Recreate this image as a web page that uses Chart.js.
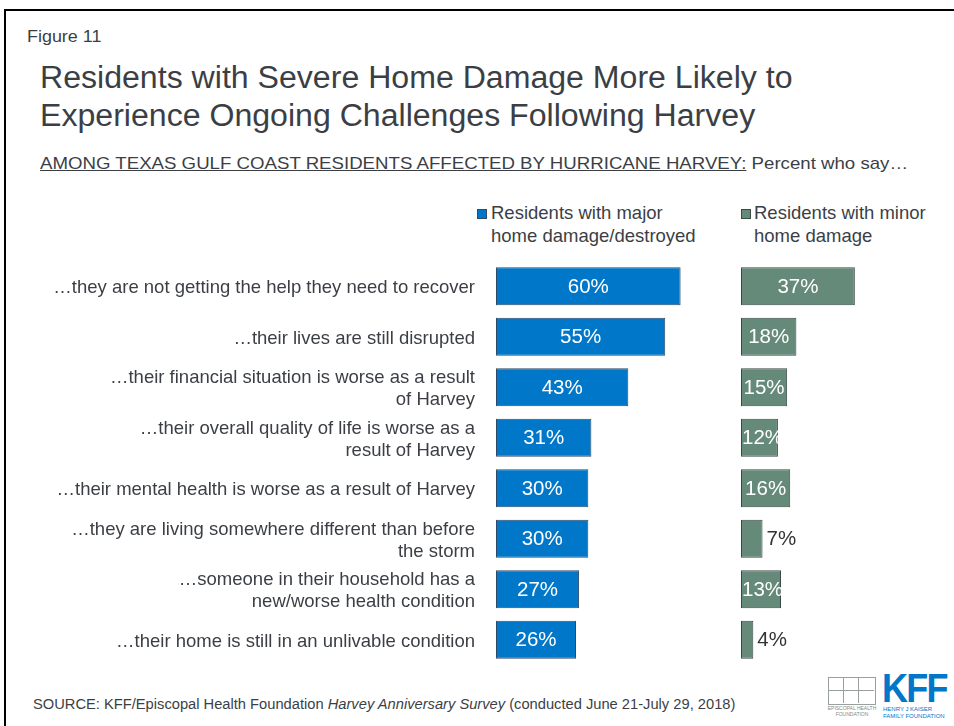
<!DOCTYPE html>
<html>
<head>
<meta charset="utf-8">
<script src="https://cdn.jsdelivr.net/npm/chart.js@4/dist/chart.umd.min.js"></script>
<style>
  html, body { margin:0; padding:0; background:#fff; }
  body { width:954px; height:726px; position:relative; overflow:hidden; font-family:"Liberation Sans", Arial, sans-serif; color:#3b3f45; }
  .frame { position:absolute; left:4px; top:9px; width:1000px; height:800px; border-top:2px solid #000; border-left:2px solid #000; }
  .abs { position:absolute; white-space:nowrap; transform-origin:left top; }
  #fig { left:27px; top:28px; font-size:16px; transform:scaleX(1.12); }
  #title { left:40px; top:59px; font-size:31px; line-height:38px; transform:scaleX(1.035); }
  #sub { left:40px; top:154px; font-size:17px; transform:scaleX(1.097); }
  #sub u { text-decoration:underline; }
  .leg { font-size:18.5px; line-height:23px; }
  .sq { position:absolute; width:8px; height:8px; }
  #source { left:33px; top:696px; font-size:14.7px; }
  canvas { position:absolute; }
</style>
</head>
<body>
<div class="frame"></div>
<div class="abs" id="fig">Figure 11</div>
<div class="abs" id="title">Residents with Severe Home Damage More Likely to<br>Experience Ongoing Challenges Following Harvey</div>
<div class="abs" id="sub"><u>AMONG TEXAS GULF COAST RESIDENTS AFFECTED BY HURRICANE HARVEY:</u> Percent who say…</div>

<div class="sq" style="left:477px;top:209px;background:#0077C8;border:1px solid #2f4a66;"></div>
<div class="abs leg" style="left:491px;top:201px;">Residents with major<br>home damage/destroyed</div>
<div class="sq" style="left:741px;top:209px;background:#668A7A;border:1px solid #3a4a45;"></div>
<div class="abs leg" style="left:754px;top:201px;">Residents with minor<br>home damage</div>

<canvas id="c1" width="696" height="404" style="left:0;top:261px;"></canvas>
<canvas id="c2" width="200" height="404" style="left:741px;top:261px;"></canvas>

<div class="abs" id="source">SOURCE: KFF/Episcopal Health Foundation <i>Harvey Anniversary Survey</i> (conducted June 21-July 29, 2018)</div>

<div class="abs" style="left:828px;top:677px;width:46px;height:26px;border:1px solid #9aa09c;"></div>
<div class="abs" style="left:843px;top:677px;width:1px;height:26px;background:#9aa09c;"></div>
<div class="abs" style="left:858px;top:677px;width:1px;height:26px;background:#9aa09c;"></div>
<div class="abs" style="left:828px;top:690px;width:46px;height:1px;background:#9aa09c;"></div>
<div class="abs" style="left:826px;top:705px;font-size:5px;line-height:6px;color:#888;text-align:center;width:52px;">EPISCOPAL HEALTH<br>FOUNDATION</div>
<div class="abs" style="left:882px;top:668px;font-size:40px;font-weight:bold;color:#0077C8;letter-spacing:-2px;line-height:40px;transform:scaleX(0.9);">KFF</div>
<div class="abs" style="left:883px;top:706px;font-size:6px;line-height:7px;color:#0077C8;">HENRY J KAISER<br>FAMILY FOUNDATION</div>

<script>
const categories = [
  "…they are not getting the help they need to recover",
  "…their lives are still disrupted",
  ["…their financial situation is worse as a result", "of Harvey"],
  ["…their overall quality of life is worse as a", "result of Harvey"],
  "…their mental health is worse as a result of Harvey",
  ["…they are living somewhere different than before", "the storm"],
  ["…someone in their household has a", "new/worse health condition"],
  "…their home is still in an unlivable condition"
];
const majorDamage = [60, 55, 43, 31, 30, 30, 27, 26];
const minorDamage = [37, 18, 15, 12, 16, 7, 13, 4];
const seriesNames = ["Residents with major home damage/destroyed", "Residents with minor home damage"];

const FONT = "'Liberation Sans', Arial, sans-serif";

const labelPlugin = {
  id: 'barLabels',
  afterDatasetsDraw(chart) {
    const ctx = chart.ctx;
    const meta = chart.getDatasetMeta(0);
    const data = chart.data.datasets[0].data;
    ctx.save();
    ctx.font = "20.5px " + FONT;
    ctx.textBaseline = 'middle';
    meta.data.forEach((bar, i) => {
      const v = data[i];
      const txt = v + '%';
      const left = Math.min(bar.base, bar.x), right = Math.max(bar.base, bar.x);
      const top = bar.y - bar.height / 2;
      if (v >= 10) {
        ctx.save();
        ctx.beginPath();
        ctx.rect(left, top, right - left, bar.height);
        ctx.clip();
        ctx.fillStyle = '#ffffff';
        const w = ctx.measureText(txt).width;
        let x0 = (left + right) / 2 - w / 2;
        if (x0 < left + 1) x0 = left + 1;
        ctx.textAlign = 'left';
        ctx.fillText(txt, x0, bar.y + 1);
        ctx.restore();
      } else {
        ctx.fillStyle = '#333333';
        ctx.textAlign = 'left';
        ctx.fillText(txt, right + 4, bar.y + 1);
      }
    });
    ctx.restore();
  }
};

function makeChart(id, values, name, bg, border, showLabels) {
  return new Chart(document.getElementById(id), {
    type: 'bar',
    data: {
      labels: categories,
      datasets: [{
        label: name,
        data: values,
        backgroundColor: bg,
        borderColor: border,
        borderWidth: 1,
        borderSkipped: false,
        barPercentage: 0.75,
        categoryPercentage: 1.0
      }]
    },
    options: {
      indexAxis: 'y',
      responsive: false,
      animation: false,
      layout: { padding: 0 },
      plugins: { legend: { display: false }, tooltip: { enabled: false } },
      scales: {
        x: { display: false, min: 0, max: 65 },
        y: showLabels ? {
          grid: { display: false, drawTicks: false },
          border: { display: false },
          ticks: { color: '#3b3f45', padding: 21, labelOffset: 2, font: { size: 18.5, family: FONT, lineHeight: 1.2 } },
          afterFit(scale) {
            scale.width = 496;
            scale.paddingTop = 0;
            scale.paddingBottom = 0;
          }
        } : { display: false }
      }
    },
    plugins: [labelPlugin]
  });
}

makeChart('c1', majorDamage, seriesNames[0], '#0077C8', '#2f4a66', true);
makeChart('c2', minorDamage, seriesNames[1], '#668A7A', '#3a4a45', false);
</script>
</body>
</html>
